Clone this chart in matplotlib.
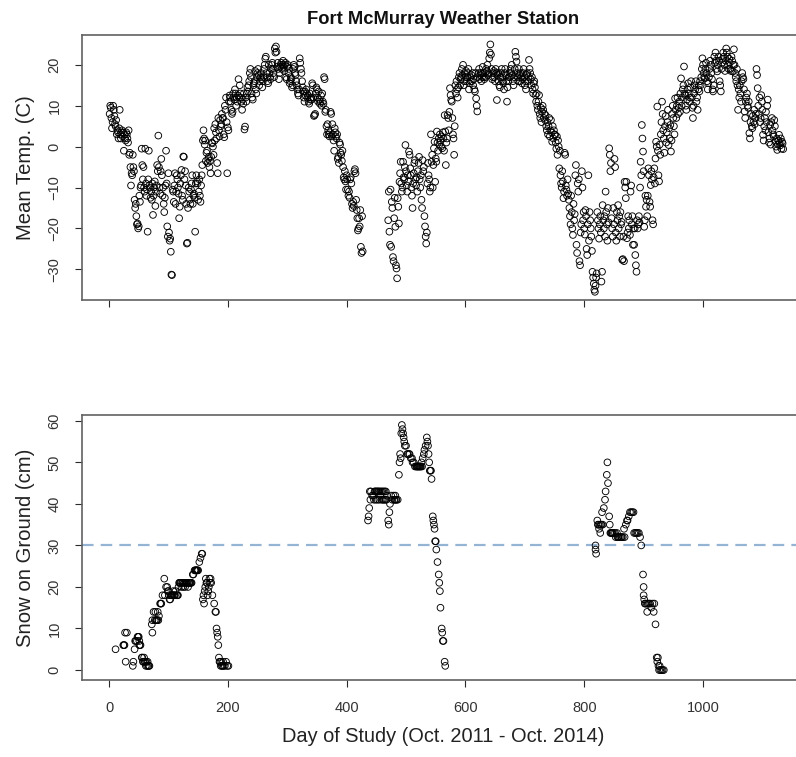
import matplotlib
matplotlib.use("Agg")
import matplotlib.pyplot as plt

plt.rcParams['font.family'] = ['Liberation Sans', 'DejaVu Sans']

# ---------------------------------------------------------------------------
# Daily mean temperature (C). Two continuous runs; no readings in between.
# ---------------------------------------------------------------------------
temp_first_day_a = 1
temp_c_a = [
    8, 10, 9.5, 7, 4.5, 6, 10, 9, 7.5, 5.5,
    5, 6.5, 3, 4, 3.5, 2, 4.5, 9, 3, 2,
    3.5, 4, 2.5, 3.5, -1, 3, 2, 1.5, 3.5, 3,
    2, 1, 4, -2, -1.5, -5, -9.5, -6.5, -7, -2,
    -5, -6, -13, -15, -14, -17, -19, -18.8, -20, -19.5,
    -12, -13.5, -10, -9.5, -0.5, -4.5, -8, -5, -10, -11,
    -0.5, -9, -12, -10.5, -20.8, -8, -1, -9.5, -10, -12.5,
    -11, -13, -9, -16.7, -12, -10, -8.5, -14.5, -11, -9.5,
    -4.5, -6, 2.7, -5, -10, -11.5, -6, -3, -7, -12,
    -10, -14, -16, -12.5, -9.5, -1, -9, -19.5, -22, -6.5,
    -21, -23, -22.5, -25.7, -31.3, -31.4, -10.5, -11, -13.5, -9.5,
    -6.5, -14, -11, -7, -8, -10, -11.5, -17.5, -14.7, -9,
    -7, -5.7, -12, -13, -2.4, -2.5, -8, -6, -9.5, -14,
    -23.7, -23.5, -15, -10, -11, -13, -14, -10.5, -9, -7,
    -14, -12, -11.5, -12.5, -20.8, -9, -7, -8.5, -9, -13,
    -11, -8, -12, -13.5, -9.5, -7, -4.5, 1.5, 4, 2,
    0.5, 1.5, -3.5, -1.5, -1, -4, -3, -2.5, -5, -3.5,
    -6.5, -2.5, 1, 0.8, 0, -2, 4.5, 1.5, 5.5, 3.5,
    2, -4, -6.5, 7, 4, 2.5, 6.5, 5, 5.5, 8,
    7, 7, 3, 2.3, 10, 9, 12, 6, -6.5, 4.7,
    4, 11, 12.5, 12, 11, 9, 8, 8.5, 13, 12,
    11.5, 14, 13, 10, 12, 11, 12.5, 16.5, 12, 15,
    13, 12, 11, 9, 11.5, 10.5, 13, 4.2, 4.9, 12,
    11, 13, 14.5, 13.5, 15, 16, 18, 19, 17, 13,
    12, 11.5, 15, 15.5, 16, 18.5, 14, 13, 17, 18,
    19, 17.5, 15, 16, 17, 18, 16.5, 14.5, 16, 17,
    19, 20, 21.5, 22, 18, 17, 16, 15.5, 20, 18,
    17, 16.5, 19, 20, 20.5, 19, 18, 17, 24, 23,
    24.5, 23.2, 19.5, 20.5, 19, 16.5, 18, 19.5, 20, 20.5,
    19, 20, 21, 19.5, 18.5, 20, 20.5, 17, 16.5, 19.5,
    20, 18, 19, 15.5, 16, 17, 16.5, 14.5, 15, 19,
    20, 19.5, 18, 17.5, 16, 15, 14, 13, 12.5, 14,
    21.6, 20.5, 19, 18, 16, 14.5, 13.5, 12, 11, 13.5,
    12.5, 14, 13, 12, 12.5, 11, 10.5, 13, 11.5, 12,
    11.5, 15.5, 15, 12, 7.5, 7.7, 8, 13, 14.5, 14,
    12, 11, 13.5, 11.5, 10.5, 11, 12.5, 10, 13, 11,
    10.5, 17, 16.5, 8.5, 9, 5, 3, 5.5, 4, 3,
    2.5, 3.5, 8.5, 8, 2.5, 5.5, 3, 1.5, -1, 4.5,
    3.5, 2.5, 2, 3, -3, -2.5, -4, 1, 0.5, -1.5,
    -2, -3.5, -1, -5, -7.5, -8, -6, -8.5, -10.5, -7,
    -8, -10.5, -12, -11, -12.5, -8, -7.5, -9, -14, -15,
    -13.5, -14.5, -6, -5.5, -6.5, -13, -15.5, -17.5, -20.5, -20,
    -17.5, -19.5, -15.5, -24.5, -26, -17, -25.6,
]

temp_first_day_b = 470
temp_c_b = [
    -18, -11, -20.8, -24, -10.5, -24.5, -13.5, -15, -27, -28,
    -17.5, -12.5, -19.6, -29, -29.8, -32.2, -12.6, -14.7, -18.8, -8.6,
    -6.5, -3.7, -9, -11, -10, -3.7, -7.5, -8, -5, 0.4,
    -6, -9.5, -11, -7, -8.5, -1.2, -2, -5.3, -7, -10,
    -12, -15, -9, -6.5, -4, -3.3, -8, -9.5, -7.5, -11,
    -6, -4, -2.5, -8, -10, -7, -13, -15, -3.3, -6,
    -5, -17, -19.5, -22, -23.7, -21, -9, -4, -7, -8,
    -11, -10, 3, -3.7, -2, -10, -4.5, -0.4, 1.2, -8.6,
    -2.9, -3.7, 3.7, 1, -1, 2, 0.5, 3, 1.5, 0,
    2.5, -0.4, 3.5, 2, -1, 7.7, 3.7, -4.5, 1, 2,
    7.7, 7, 4, 8.5, 14.3, 12.6, 11.4, 11, 7, 3,
    2, -2, 5, 15, 13, 16, 14, 12, 14.5, 17,
    18, 15, 16.5, 17, 19, 17.5, 20, 15, 16, 18,
    17, 18.5, 16, 17, 18, 19, 14, 15.5, 17, 16,
    17.5, 16, 18, 15, 16.5, 14, 13.5, 18, 11.8, 10,
    8.6, 17, 18, 19, 16.5, 17.5, 18, 16, 17, 19.5,
    18, 17, 16.5, 18, 17, 19, 18.5, 20, 17.5, 18,
    21.6, 23, 25, 22.5, 19, 16.5, 17, 18, 18.5, 17,
    16, 19, 18, 11.4, 17.5, 18, 16, 15, 14.5, 17,
    18, 19, 17, 16, 15.5, 14, 18, 19, 17.5, 16,
    11, 14.5, 16, 17, 18, 17, 19, 18, 20, 17.5,
    16, 15, 17, 19, 23.2, 22, 20.8, 18, 17, 16,
    19, 17.5, 16, 18, 17, 15.5, 16.5, 18, 19, 17,
    15, 16, 14, 17.5, 18, 16, 17, 21.2, 19, 18,
    16.5, 15, 17, 14, 13, 15.5, 16, 14.5, 12.6, 11,
    13, 10, 9, 11, 12.6, 8, 7, 9.5, 6, 8.5,
    10, 9, 7, 8, 6.5, 7.7, 5, 4, 6, 3,
    5, 7, 2.5, 4, 6.5, 3.5, 1.2, 5, 2, 4,
    3, 2.9, 1, -0.5, 2.5, -2, 1.5, 0, -5.3, -1,
    -7, -9, -10, -6, -8.5, -12.6, -11, -1.5, -2, -9.5,
    -10.5, -12, -8, -11.5, -13, -15, -17, -19, -12, -16,
    -20, -21.6, -14, -18, -16.5, -7, -4.5, -24, -26, -9,
    -11, -8, -28, -29, -21, -19, -6, -10, -18, -16,
    -20, -21.5, -15.5, -17, -25, -26.5, -19, -7, -23, -16,
    -18, -20, -22, -25.5, -30.6, -32, -33.5, -35, -35.5, -34,
    -32, -31, -16, -18, -20, -22.5, -19, -17, -21, -33,
    -30.6, -14.3, -18, -20, -17, -22, -11, -16, -19, -23,
    -15, -18.5, -0.4, -2, -6, -4, -17.5, -20, -22, -15,
    -19, -3, -5, -21, -23, -16, -18, -14.3, -20, -17,
    -22, -16, -19, -18.4, -27.7, -27.5, -22, -28, -8.6, -10,
    -12.6, -8.6, -22.4, -21, -17, -20, -18, -21.6, -11, -9.5,
    -19, -17, -24, -20, -24, -20, -26.5, -29, -30.6, -18,
    -20, -19, -17, -18.5, -10, -3.7, -7, 5.3, 2, -1.2,
    -6, -19.6, -18, -12, -14.7, -13, -17, -12, -5.3, -7,
    -13.5, -14.7, -9.4, -6, -8, -18, -19, -7.5, -5.3, -9,
    -2.9, 1.2, 0, 9.8, -1, -7, -8.5, 0.5, -2, 3,
    6, 11, 8, 4, 2, -1.5, 5, 7.5, 1, 3.5,
    6, 9, 0.4, 4.5, 2, 5.3, -1.2, 1.5, 8, 10,
    7, 5, 3, 11.8, 9, 7, 10, 12, 8, 9.5,
    11, 8.5, 13, 16.7, 10, 12, 14, 15, 19.6, 13,
    12.6, 10, 9, 11.5, 14, 15.5, 13, 11, 12, 14.5,
    16, 12, 9.5, 7, 10, 13, 15, 14, 16, 11,
    12, 9, 14, 15, 13.5, 16, 15, 17, 19, 21.6,
    20, 18, 17, 16.7, 19, 20.5, 18, 16, 14, 15.5,
    17, 19, 21, 20, 18, 16.5, 14, 13.5, 15, 22,
    20.5, 23, 21, 19, 18.4, 20, 22, 21, 16, 15,
    13.5, 19, 20.5, 21.5, 23, 22, 20, 18.5, 21, 24,
    23, 22, 20, 19, 21.5, 20.5, 19, 18.5, 22, 21,
    18.4, 20, 23.8, 20, 18, 17, 16, 19, 15, 9,
    14, 12, 15, 13, 11, 16, 18, 17, 16.5, 14,
    8.6, 7, 11, 12, 13, 10, 9.5, 11, 3.3, 2,
    6, 8, 5, 4.5, 7.5, 6, 9, 5.5, 7, 8,
    19, 17.5, 14.3, 10, 8, 12, 6, 7, 12.6, 11,
    9, 2.9, 1.5, 5, 7, 4, 8.5, 6, 10, 11.5,
    3.5, 1, 2, 5.3, 0.5, 6, 7, 4, 3, 2.5,
    6.5, 5, 1.2, 0, 2, -0.8, 0.5, 1.5, 2.9, 1,
    0.3, 2, -0.5, 1.2, 0.8, -0.6,
]

# ---------------------------------------------------------------------------
# Snow on ground (cm) as (day, depth) readings, one list per winter
# ---------------------------------------------------------------------------
snow_winter_1 = [
    (11, 5), (24, 6), (25, 6), (26, 6), (27, 9), (28, 2), (30, 9), (40, 1),
    (41, 2), (43, 5), (44, 7), (45, 7), (47, 7), (48, 8), (49, 8), (50, 8),
    (51, 7), (51, 6), (52, 6), (53, 6), (55, 3), (56, 3), (57, 2), (58, 2),
    (59, 3), (60, 2), (61, 2), (62, 1), (63, 2), (64, 1), (65, 2), (66, 1),
    (67, 1), (68, 1), (72, 11), (73, 9), (73, 12), (75, 14), (77, 12),
    (78, 14), (79, 12), (80, 12), (81, 12), (82, 14), (83, 12), (84, 13),
    (86, 16), (87, 16), (88, 16), (90, 18), (93, 22), (94, 18), (96, 20),
    (98, 20), (99, 19), (100, 19), (101, 18), (102, 17), (103, 17),
    (104, 18), (105, 18), (106, 18), (107, 18), (108, 19), (109, 18),
    (110, 18), (111, 18), (112, 19), (114, 18), (115, 18), (116, 18),
    (117, 20), (118, 21), (119, 21), (120, 21), (121, 21), (122, 20),
    (123, 21), (124, 21), (125, 20), (126, 21), (127, 21), (128, 20),
    (129, 21), (130, 21), (131, 21), (132, 21), (133, 20), (134, 21),
    (135, 21), (136, 21), (137, 21), (138, 21), (139, 21), (141, 23),
    (142, 23), (144, 24), (145, 24), (146, 24), (147, 24), (148, 24),
    (149, 24), (150, 24), (152, 26), (154, 27), (156, 28), (157, 28),
    (158, 17), (159, 18), (160, 16), (161, 19), (162, 20), (163, 22),
    (164, 21), (165, 21), (166, 18), (167, 19), (168, 20), (169, 22),
    (170, 21), (171, 22), (172, 21), (174, 18), (177, 16), (179, 14),
    (180, 14), (181, 10), (182, 9), (183, 8), (184, 6), (185, 3), (186, 2),
    (187, 2), (188, 1), (189, 2), (190, 1), (191, 1), (192, 2), (193, 1),
    (195, 1), (197, 2), (199, 1), (201, 1),
]

snow_winter_2 = [
    (436, 36), (437, 37), (438, 39), (439, 43), (440, 41), (441, 43),
    (443, 42), (445, 42), (446, 41), (447, 43), (448, 43), (449, 41),
    (450, 43), (451, 43), (452, 41), (453, 43), (454, 43), (455, 41),
    (456, 43), (457, 42), (458, 43), (459, 41), (460, 43), (461, 41),
    (462, 43), (463, 41), (464, 43), (465, 41), (466, 43), (467, 41),
    (468, 42), (470, 36), (471, 35), (472, 38), (473, 40), (475, 42),
    (477, 41), (479, 42), (480, 41), (481, 41), (482, 42), (483, 41),
    (484, 41), (486, 41), (488, 47), (489, 50), (490, 52), (491, 51),
    (492, 57), (493, 59), (494, 58), (495, 57), (496, 56), (497, 55),
    (498, 54), (500, 54), (502, 52), (503, 52), (505, 52), (506, 52),
    (508, 51), (510, 51), (511, 50), (513, 50), (515, 49), (517, 49),
    (518, 49), (519, 49), (520, 49), (521, 49), (522, 49), (523, 49),
    (524, 49), (525, 49), (526, 50), (527, 49), (528, 51), (530, 52),
    (531, 53), (533, 54), (535, 56), (536, 55), (537, 54), (538, 52),
    (539, 50), (540, 48), (541, 48), (542, 48), (543, 46), (545, 37),
    (546, 36), (547, 35), (548, 34), (549, 31), (550, 31), (551, 29),
    (553, 26), (555, 23), (556, 21), (557, 19), (558, 15), (560, 10),
    (561, 9), (562, 7), (563, 7), (565, 2), (566, 1),
]

snow_winter_3 = [
    (819, 30), (819, 29), (820, 28), (822, 36), (823, 35), (824, 35),
    (825, 34), (826, 35), (827, 33), (828, 35), (829, 35), (830, 38),
    (831, 35), (833, 39), (835, 41), (836, 43), (838, 47), (839, 50),
    (840, 45), (842, 37), (843, 35), (844, 33), (845, 33), (846, 33),
    (847, 33), (848, 33), (850, 33), (852, 33), (853, 32), (855, 33),
    (856, 32), (857, 32), (858, 32), (860, 32), (862, 32), (863, 32),
    (865, 32), (867, 34), (868, 32), (870, 35), (872, 36), (873, 36),
    (875, 37), (877, 38), (879, 38), (881, 38), (883, 38), (884, 33),
    (886, 33), (888, 33), (890, 33), (892, 33), (894, 32), (896, 30),
    (899, 23), (900, 20), (900, 18), (901, 17), (902, 16), (903, 16),
    (905, 16), (906, 14), (907, 16), (909, 16), (911, 16), (913, 15),
    (915, 16), (917, 14), (918, 16), (920, 11), (922, 3), (923, 2),
    (924, 3), (925, 1), (926, 0), (927, 1), (928, 0), (930, 0), (932, 0),
    (934, 0),
]

snow_threshold_cm = 30

x_ticks = [0, 200, 400, 600, 800, 1000]
temp_ticks = [-30, -20, -10, 0, 10, 20]
snow_ticks = [0, 10, 20, 30, 40, 50, 60]

title_text = "Fort McMurray Weather Station"
temp_label = "Mean Temp. (C)"
snow_label = "Snow on Ground (cm)"
day_label = "Day of Study (Oct. 2011 - Oct. 2014)"

# ---------------------------------------------------------------------------
temp_day = ([temp_first_day_a + i for i in range(len(temp_c_a))]
            + [temp_first_day_b + i for i in range(len(temp_c_b))])
temp_val = temp_c_a + temp_c_b

snow_all = snow_winter_1 + snow_winter_2 + snow_winter_3
snow_day = [d for d, _ in snow_all]
snow_val = [v for _, v in snow_all]

W, H = 796, 757
fig = plt.figure(figsize=(W / 100, H / 100), dpi=100)
fig.patch.set_facecolor("white")


def panel(left, top, right, bottom):
    return fig.add_axes([left / W, 1 - bottom / H, (right - left) / W, (bottom - top) / H])


ax_t = panel(82, 35, 804, 300)
ax_s = panel(82, 415, 804, 680)

spine_col = "#616161"
text_col = "#333333"

for ax in (ax_t, ax_s):
    ax.set_xlim(-45.5, 1170)
    ax.set_xticks(x_ticks)
    for sp in ax.spines.values():
        sp.set_color(spine_col)
        sp.set_linewidth(1.2)
    ax.tick_params(axis="both", direction="out", length=5.2, width=0.8,
                   color="#2a2a2a", labelsize=10.5, labelcolor=text_col)
    ax.tick_params(axis="x", pad=10)
    ax.tick_params(axis="y", labelrotation=90, pad=9.5)

circle_kw = dict(s=23, facecolors="none", edgecolors="black", linewidths=0.65)

ax_t.scatter(temp_day, temp_val, **circle_kw)
ax_t.set_ylim(-37.5, 27.3)
ax_t.set_yticks(temp_ticks)
ax_t.tick_params(axis="x", labelbottom=False)

ax_s.axhline(snow_threshold_cm, color="#95b4d3", lw=1.6, dashes=(5.2, 3.2), zorder=1)
ax_s.scatter(snow_day, snow_val, zorder=2, **circle_kw)
ax_s.set_ylim(-2.4, 61.4)
ax_s.set_yticks(snow_ticks)

for ax in (ax_t, ax_s):
    for lbl in ax.get_yticklabels():
        lbl.set_verticalalignment("center")

fig.text(443 / W, 1 - 24 / H, title_text, ha="center", va="baseline",
         fontsize=13.2, fontweight="bold", color="#111111")
fig.text(443 / W, 1 - 742 / H, day_label, ha="center", va="baseline",
         fontsize=14.4, color="#222222")
fig.text(31 / W, 1 - 167.5 / H, temp_label, rotation=90, rotation_mode="anchor",
         ha="center", va="baseline", fontsize=14.6, color="#222222")
fig.text(31 / W, 1 - 547.5 / H, snow_label, rotation=90, rotation_mode="anchor",
         ha="center", va="baseline", fontsize=14.6, color="#222222")

fig.savefig("out.png", dpi=100)
